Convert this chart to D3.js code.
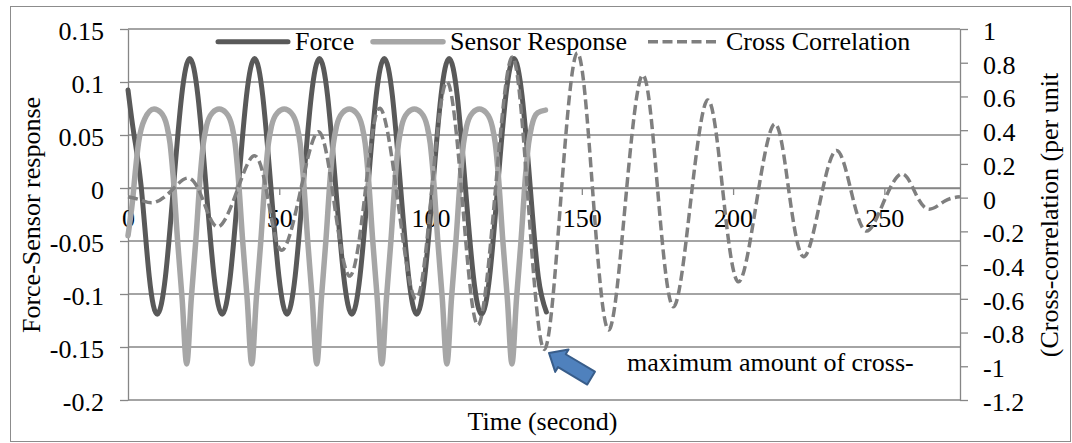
<!DOCTYPE html>
<html><head><meta charset="utf-8">
<script src="https://cdn.jsdelivr.net/npm/d3@7"></script>
<style>
body{margin:0;background:#fff}
</style>
</head><body>
<svg id="c" width="1072" height="443"></svg>
<script>
// ---- data ----
const seriesNames = ["Force", "Sensor Response", "Cross Correlation"];
const forceT = [0,2,4.34,7.02,9.7,12.38,15.06,17.74,20.42,23.1,25.78,28.45,31.13,33.81,36.49,39.17,41.85,44.53,47.2,49.88,52.56,55.24,57.92,60.6,63.28,65.96,68.63,71.31,73.99,76.67,79.35,82.03,84.71,87.39,90.06,92.74,95.42,98.1,100.78,103.46,106.14,108.82,111.49,114.17,116.85,119.53,122.21,124.89,127.57,130.25,132.92,135.6,138.3];
const forceV = [0.0925,0.05,0.002,-0.0835,-0.119,
 -0.0835,0.002,0.087,0.1222,0.087,0.002,-0.0835,-0.119,
 -0.0835,0.002,0.087,0.1222,0.087,0.002,-0.0835,-0.119,
 -0.0835,0.002,0.087,0.1222,0.087,0.002,-0.0835,-0.119,
 -0.0835,0.002,0.087,0.1222,0.087,0.002,-0.0835,-0.119,
 -0.0835,0.002,0.087,0.1222,0.087,0.002,-0.0835,-0.119,
 -0.0835,0.002,0.087,0.1222,0.087,0.002,-0.0835,-0.117];
const sensorT = [0,1.5,2.5,3.5,5.5,8.6,
 10.9,12.9,13.9,14.9,16.4,17.9,19.4,20.9,22.4,23.9,24.9,25.9,27.9,30.15,
 32.4,34.4,35.4,36.4,37.9,39.4,40.9,42.4,43.9,45.4,46.4,47.4,49.4,51.65,
 53.9,55.9,56.9,57.9,59.4,60.9,62.4,63.9,65.4,66.9,67.9,68.9,70.9,73.15,
 75.4,77.4,78.4,79.4,80.9,82.4,83.9,85.4,86.9,88.4,89.4,90.4,92.4,94.65,
 96.9,98.9,99.9,100.9,102.4,103.9,105.4,106.9,108.4,109.9,110.9,111.9,113.9,116.15,
 118.4,120.4,121.4,122.4,123.9,125.4,126.9,128.4,129.9,131.4,132.4,133.4,135.4,138];
const sensorV = [-0.045,-0.012,0.018,0.043,0.065,0.0745,
 0.071,0.058,0.042,0.012,-0.05,-0.105,-0.166,-0.105,-0.05,0.012,0.042,0.058,0.071,0.0745,
 0.071,0.058,0.042,0.012,-0.05,-0.105,-0.166,-0.105,-0.05,0.012,0.042,0.058,0.071,0.0745,
 0.071,0.058,0.042,0.012,-0.05,-0.105,-0.166,-0.105,-0.05,0.012,0.042,0.058,0.071,0.0745,
 0.071,0.058,0.042,0.012,-0.05,-0.105,-0.166,-0.105,-0.05,0.012,0.042,0.058,0.071,0.0745,
 0.071,0.058,0.042,0.012,-0.05,-0.105,-0.166,-0.105,-0.05,0.012,0.042,0.058,0.071,0.0745,
 0.071,0.058,0.042,0.012,-0.05,-0.105,-0.166,-0.105,-0.05,0.012,0.042,0.058,0.071,0.0735];
const xcorrT = [0,4.4,8.8,14.5,20.3,25.1,29.9,36,42,46.5,51,57,63.1,68.2,73.4,78.4,83.3,89.3,95.3,100.4,105.5,110.6,115.7,121.4,127.1,132.3,137.6,143,148.5,153.6,158.8,164.4,170.1,175.1,180.2,185.9,191.6,196.6,201.7,207.7,213.7,218.4,223.2,228.6,234,239,243.9,249.7,255.5,260,264.5,270,275];
const xcorrV = [0.005,-0.015,-0.028,0.044,0.115,-0.029,-0.172,0.038,0.248,-0.032,-0.311,0.04,0.39,-0.038,-0.465,0.033,0.53,-0.035,-0.6,0.044,0.687,-0.035,-0.756,0.039,0.834,-0.033,-0.9,-0.021,0.858,0.037,-0.785,-0.029,0.727,0.04,-0.647,-0.034,0.579,0.04,-0.499,-0.031,0.437,0.044,-0.35,-0.036,0.279,0.04,-0.198,-0.029,0.14,0.036,-0.068,-0.02,0.005];
const leftTicks = [0.15,0.1,0.05,0,-0.05,-0.1,-0.15,-0.2];
const leftLabels = ["0.15","0.1","0.05","0","-0.05","-0.1","-0.15","-0.2"];
const rightTicks = [1,0.8,0.6,0.4,0.2,0,-0.2,-0.4,-0.6,-0.8,-1,-1.2];
const rightLabels = ["1","0.8","0.6","0.4","0.2","0","-0.2","-0.4","-0.6","-0.8","-1","-1.2"];
const xTicks = [0,50,100,150,200,250];
const xLabels = ["0","50","100","150","200","250"];
const xDomain = [0,275];
const leftDomain = [-0.2,0.15];
const rightDomain = [-1.2,1];
const titles = {x:"Time (second)", yLeft:"Force-Sensor response", yRight:"(Cross-correlation (per unit"};
const note = "maximum amount of cross-";

// ---- drawing ----
const FONT = '"Liberation Serif", Tinos, "Times New Roman", "DejaVu Serif", "Noto Serif", serif';
const svg = d3.select("#c");
const L=128, R=960, T=29, B=400;
const gridC="#868686";
const x = d3.scaleLinear().domain(xDomain).range([L,R]);
const yL = d3.scaleLinear().domain(leftDomain).range([B,T]);
const yR = d3.scaleLinear().domain(rightDomain).range([B,T]);
const styleText = sel => sel.attr("font-family",FONT).style("font-family",FONT)
  .attr("font-size",26).style("font-size","26px").attr("fill","#000");

svg.append("rect").attr("x",10.5).attr("y",6.5).attr("width",1060).attr("height",435)
  .attr("fill","#fff").attr("stroke","#8c8c8c").attr("stroke-width",1);

// gridlines
svg.append("g").selectAll("line").data(leftTicks).join("line")
  .attr("x1",L).attr("x2",R).attr("y1",d=>yL(d)).attr("y2",d=>yL(d))
  .attr("stroke",gridC).attr("stroke-width",1.3);

// left axis
const gL = svg.append("g").attr("transform",`translate(${L},0)`)
  .call(d3.axisLeft(yL).tickValues(leftTicks).tickSize(8).tickSizeOuter(0)
    .tickFormat((d,i)=>leftLabels[i]));
gL.attr("font-family",null).attr("font-size",null);
gL.select(".domain").attr("stroke",gridC).attr("stroke-width",1.3);
gL.selectAll(".tick line").attr("stroke",gridC).attr("stroke-width",1.3);
gL.selectAll(".tick text").attr("x",-24).attr("dy","0.42em").call(styleText);

// right axis
const gR = svg.append("g").attr("transform",`translate(${R},0)`)
  .call(d3.axisRight(yR).tickValues(rightTicks).tickSize(8).tickSizeOuter(0)
    .tickFormat((d,i)=>rightLabels[i]));
gR.attr("font-family",null).attr("font-size",null);
gR.select(".domain").attr("stroke",gridC).attr("stroke-width",1.3);
gR.selectAll(".tick line").attr("stroke",gridC).attr("stroke-width",1.3);
gR.selectAll(".tick text").attr("x",23).attr("dy","0.4em").call(styleText);

// x axis at y=0 of left scale
const gX = svg.append("g").attr("transform",`translate(0,${yL(0)})`)
  .call(d3.axisBottom(x).tickValues(xTicks).tickSize(7).tickSizeOuter(0)
    .tickFormat((d,i)=>xLabels[i]));
gX.attr("font-family",null).attr("font-size",null);
gX.select(".domain").attr("stroke",gridC).attr("stroke-width",1.3);
gX.selectAll(".tick line").attr("stroke",gridC).attr("stroke-width",1.3);
gX.selectAll(".tick text").attr("y",21).attr("dy","0.71em").call(styleText);

// series
const mk = (Ts,Vs,ys,curve)=>d3.line().x((d,i)=>x(Ts[i])).y((d,i)=>ys(Vs[i])).curve(curve)(Ts);
svg.append("path").attr("d",mk(forceT,forceV,yL,d3.curveNatural))
  .attr("fill","none").attr("stroke","#595959").attr("stroke-width",5).attr("stroke-linecap","round").attr("stroke-linejoin","round");
svg.append("path").attr("d",mk(sensorT,sensorV,yL,d3.curveMonotoneX))
  .attr("fill","none").attr("stroke","#a6a6a6").attr("stroke-width",5.5).attr("stroke-linecap","round").attr("stroke-linejoin","round");
svg.append("path").attr("d",mk(xcorrT,xcorrV,yR,d3.curveNatural))
  .attr("fill","none").attr("stroke","#7f7f7f").attr("stroke-width",3.5).attr("stroke-dasharray","10,4.5");

// legend
const leg = [
  {x1:218,x2:288,tx:295,c:"#595959",w:5,dash:null},
  {x1:373,x2:443,tx:450,c:"#a6a6a6",w:5.5,dash:null},
  {x1:648,x2:720,tx:726,c:"#7f7f7f",w:3.5,dash:"10,4.5"}];
leg.forEach((l,i)=>{
  svg.append("line").attr("x1",l.x1).attr("x2",l.x2).attr("y1",41.7).attr("y2",41.7)
    .attr("stroke",l.c).attr("stroke-width",l.w).attr("stroke-linecap",l.dash?"butt":"round")
    .attr("stroke-dasharray",l.dash);
  svg.append("text").attr("x",l.tx).attr("y",50).text(seriesNames[i]).call(styleText);
});

// axis titles
svg.append("text").attr("x",542.5).attr("y",430).attr("text-anchor","middle").text(titles.x).call(styleText);
svg.append("text").attr("transform","translate(40,215) rotate(-90)").attr("text-anchor","middle").text(titles.yLeft).call(styleText);
svg.append("text").attr("transform","translate(1058,215) rotate(-90)").attr("text-anchor","middle").text(titles.yRight).call(styleText);

// annotation arrow + text
svg.append("path")
  .attr("d","M0,0 L15,-13 L15,-7.5 L49,-7.5 L49,7.5 L15,7.5 L15,13 Z")
  .attr("transform","translate(549,353) rotate(30.8)")
  .attr("fill","#4f81bd").attr("stroke","#385d8a").attr("stroke-width",2).attr("stroke-linejoin","round");
svg.append("text").attr("x",627).attr("y",371).text(note).call(styleText);
</script>
</body></html>
